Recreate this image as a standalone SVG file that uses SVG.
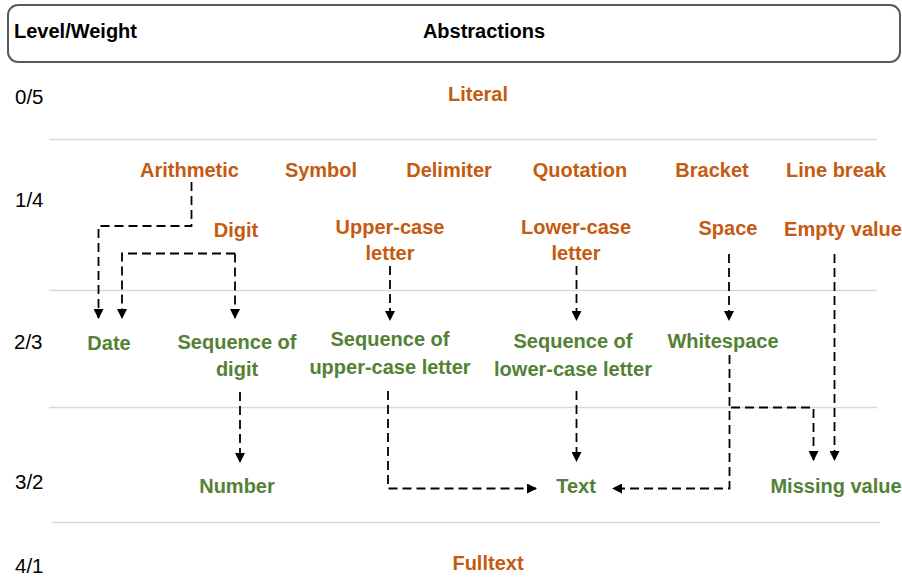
<svg xmlns="http://www.w3.org/2000/svg" width="902" height="581" viewBox="0 0 902 581">
  <style>
    text { font-family: "Liberation Sans", Arial, sans-serif; }
    .hdr { font-size: 20px; font-weight: bold; fill: #000; }
    .lvl { font-size: 20.5px; fill: #000; }
    .a { font-size: 20px; font-weight: bold; fill: #C55A11; text-anchor: middle; }
    .b { font-size: 20px; font-weight: bold; fill: #538135; text-anchor: middle; }
    .grid { stroke: #d9d9d9; stroke-width: 1.5; }
    .edge { fill: none; stroke: #000; stroke-width: 1.8; stroke-dasharray: 9 5; }
  </style>
  <defs>
    <marker id="arr" viewBox="0 0 10 10" refX="9" refY="5" markerWidth="10" markerHeight="10" markerUnits="userSpaceOnUse" orient="auto">
      <path d="M0,0 L10,5 L0,10 Z" fill="#000"/>
    </marker>
  </defs>
  <rect width="902" height="581" fill="#fff"/>

  <!-- header band -->
  <g id="header">
    <rect x="8" y="5" width="892" height="57" rx="10" fill="none" stroke="#595959" stroke-width="2"/>
    <text class="hdr" x="14" y="38">Level/Weight</text>
    <text class="hdr" x="484" y="38" text-anchor="middle">Abstractions</text>
  </g>

  <!-- level separators -->
  <g id="grid">
    <line class="grid" x1="49" y1="139.5" x2="877" y2="139.5"/>
    <line class="grid" x1="49" y1="290.5" x2="877" y2="290.5"/>
    <line class="grid" x1="49" y1="407.5" x2="877" y2="407.5"/>
    <line class="grid" x1="52" y1="522.5" x2="880" y2="522.5"/>
  </g>

  <!-- level / weight labels -->
  <g id="levels">
    <text class="lvl" x="15" y="104">0/5</text>
    <text class="lvl" x="15" y="207">1/4</text>
    <text class="lvl" x="14" y="349">2/3</text>
    <text class="lvl" x="15" y="489">3/2</text>
    <text class="lvl" x="15" y="573">4/1</text>
  </g>

  <!-- connectors -->
  <g id="connectors">
    <path class="edge" d="M191.5,182 V226 H98.5 V318" marker-end="url(#arr)"/>
    <path class="edge" d="M235,253.5 H122 V318" marker-end="url(#arr)"/>
    <path class="edge" d="M235,253.5 V318" marker-end="url(#arr)"/>
    <path class="edge" d="M390,266 V320" marker-end="url(#arr)"/>
    <path class="edge" d="M576.5,266 V320" marker-end="url(#arr)"/>
    <path class="edge" d="M729,254 V320" marker-end="url(#arr)"/>
    <path class="edge" d="M834.5,254 V460" marker-end="url(#arr)"/>
    <path class="edge" d="M240,392 V462" marker-end="url(#arr)"/>
    <path class="edge" d="M388,391 V488.5 H536" marker-end="url(#arr)"/>
    <path class="edge" d="M576.5,391 V461" marker-end="url(#arr)"/>
    <path class="edge" d="M729.5,355 V488.5 H613" marker-end="url(#arr)"/>
    <path class="edge" d="M731,407.5 H813.5 V460" marker-end="url(#arr)"/>
  </g>

  <!-- level 0 -->
  <g id="literal"><text class="a" x="478" y="101">Literal</text></g>

  <!-- level 1 -->
  <g id="arithmetic"><text class="a" x="189.5" y="177">Arithmetic</text></g>
  <g id="symbol"><text class="a" x="321" y="177">Symbol</text></g>
  <g id="delimiter"><text class="a" x="449" y="177">Delimiter</text></g>
  <g id="quotation"><text class="a" x="580" y="177">Quotation</text></g>
  <g id="bracket"><text class="a" x="712" y="177">Bracket</text></g>
  <g id="line-break"><text class="a" x="836" y="177">Line break</text></g>
  <g id="digit"><text class="a" x="236" y="237">Digit</text></g>
  <g id="upper-case-letter">
    <text class="a" x="390" y="234">Upper-case</text>
    <text class="a" x="390" y="260">letter</text>
  </g>
  <g id="lower-case-letter">
    <text class="a" x="576" y="234">Lower-case</text>
    <text class="a" x="576" y="260">letter</text>
  </g>
  <g id="space"><text class="a" x="728" y="235">Space</text></g>
  <g id="empty-value"><text class="a" x="843" y="236">Empty value</text></g>

  <!-- level 2 -->
  <g id="date"><text class="b" x="109" y="350">Date</text></g>
  <g id="sequence-of-digit">
    <text class="b" x="237" y="349">Sequence of</text>
    <text class="b" x="237" y="376">digit</text>
  </g>
  <g id="sequence-of-upper-case-letter">
    <text class="b" x="390" y="346">Sequence of</text>
    <text class="b" x="390" y="374">upper-case letter</text>
  </g>
  <g id="sequence-of-lower-case-letter">
    <text class="b" x="573" y="348">Sequence of</text>
    <text class="b" x="573" y="376">lower-case letter</text>
  </g>
  <g id="whitespace"><text class="b" x="723" y="348">Whitespace</text></g>

  <!-- level 3 -->
  <g id="number"><text class="b" x="237" y="493">Number</text></g>
  <g id="text"><text class="b" x="576" y="493">Text</text></g>
  <g id="missing-value"><text class="b" x="836" y="493">Missing value</text></g>

  <!-- level 4 -->
  <g id="fulltext"><text class="a" x="488" y="570">Fulltext</text></g>
</svg>
